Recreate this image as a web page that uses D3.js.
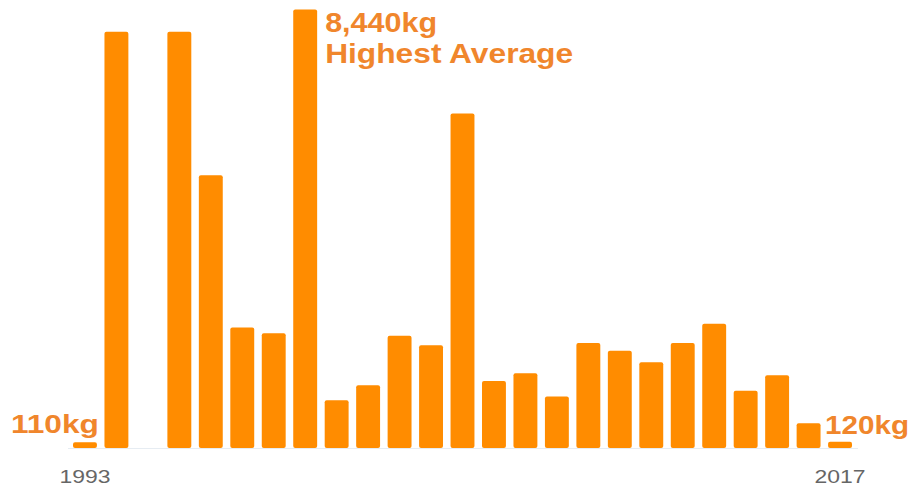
<!DOCTYPE html>
<html>
<head>
<meta charset="utf-8">
<script src="https://cdn.jsdelivr.net/npm/d3@7"></script>
<style>
  body { margin: 0; background: #fff; }
  text { font-family: "Liberation Sans", Arial, sans-serif; }
</style>
</head>
<body>
<div id="chart"></div>
<script>
const years = d3.range(1993, 2018);
// kg per year, 1995 has no value
const values = [110, 8010, null, 8010, 5250, 2320, 2210, 8440, 920, 1210, 2160, 1980, 6440,
  1290, 1440, 990, 2020, 1870, 1650, 2020, 2390, 1100, 1400, 475, 120];
const tickYears = [1993, 2017];

const width = 910, height = 486;
const svg = d3.select("#chart").append("svg")
  .attr("width", width)
  .attr("height", height);

const x = d3.scaleBand()
  .domain(years)
  .range([73, 852])
  .paddingInner(0.24)
  .paddingOuter(0);

const y = d3.scaleLinear()
  .domain([0, 8440])
  .range([448, 9.5]);

// faint baseline
svg.append("line")
  .attr("x1", 68).attr("x2", 858)
  .attr("y1", y(0) + 0.5).attr("y2", y(0) + 0.5)
  .attr("stroke", "#e6ecf2")
  .attr("stroke-width", 1);

const data = years.map((yr, i) => ({ year: yr, value: values[i] })).filter(d => d.value != null);

svg.selectAll("rect.bar")
  .data(data)
  .enter()
  .append("rect")
  .attr("class", "bar")
  .attr("x", d => x(d.year))
  .attr("y", d => y(d.value))
  .attr("width", x.bandwidth())
  .attr("height", d => y(0) - y(d.value))
  .attr("rx", 2)
  .attr("fill", "#ff8c00");

// year labels
svg.selectAll("text.year")
  .data(tickYears)
  .enter()
  .append("text")
  .attr("class", "year")
  .attr("x", d => x(d) + x.bandwidth() / 2)
  .attr("y", 483)
  .attr("text-anchor", "middle")
  .attr("font-size", 18)
  .attr("fill", "#666")
  .attr("textLength", 51)
  .attr("lengthAdjust", "spacingAndGlyphs")
  .text(d => d);

const labelColor = "#f0862c";
const first = data[0], last = data[data.length - 1];
const peak = data.find(d => d.value === d3.max(values));

svg.append("text")
  .attr("x", x(first.year) + x.bandwidth() + 2)
  .attr("y", y(first.value) - 9)
  .attr("text-anchor", "end")
  .attr("font-size", 25)
  .attr("font-weight", "bold")
  .attr("fill", labelColor)
  .attr("textLength", 88)
  .attr("lengthAdjust", "spacingAndGlyphs")
  .text(d3.format(",")(first.value) + "kg");

svg.append("text")
  .attr("x", x(last.year) - 3)
  .attr("y", y(last.value) - 8)
  .attr("font-size", 25)
  .attr("font-weight", "bold")
  .attr("fill", labelColor)
  .attr("textLength", 84)
  .attr("lengthAdjust", "spacingAndGlyphs")
  .text(d3.format(",")(last.value) + "kg");

const px = x(peak.year) + x.bandwidth() + 8;
svg.append("text")
  .attr("x", px)
  .attr("y", 32)
  .attr("font-size", 28)
  .attr("font-weight", "bold")
  .attr("fill", labelColor)
  .attr("textLength", 112)
  .attr("lengthAdjust", "spacingAndGlyphs")
  .text(d3.format(",")(peak.value) + "kg");

svg.append("text")
  .attr("x", px)
  .attr("y", 63)
  .attr("font-size", 28)
  .attr("font-weight", "bold")
  .attr("fill", labelColor)
  .attr("textLength", 248)
  .attr("lengthAdjust", "spacingAndGlyphs")
  .text("Highest Average");
</script>
</body>
</html>
